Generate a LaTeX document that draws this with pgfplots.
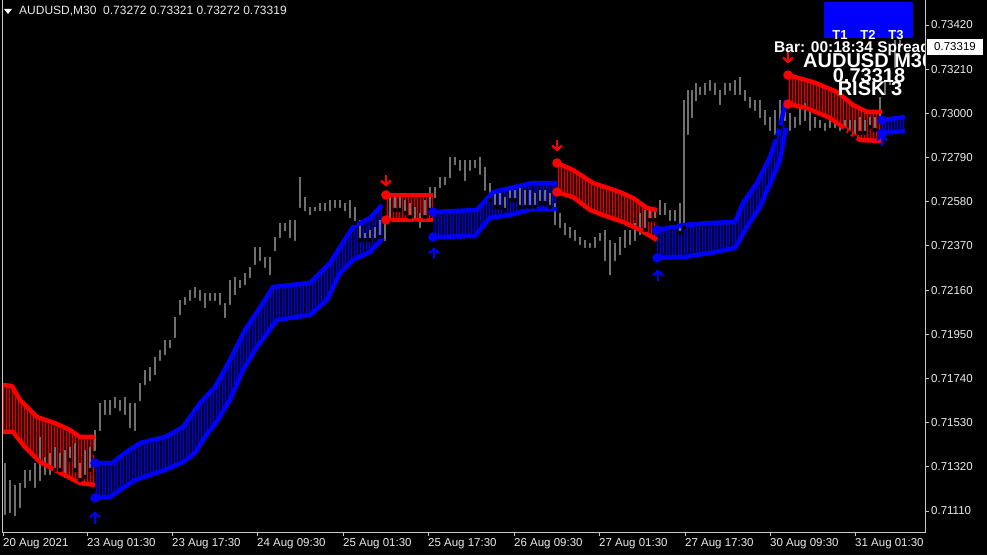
\documentclass[border=0pt]{standalone}
\usepackage{fontspec}
\setmainfont{Liberation Sans}
\usepackage{xcolor}
\usepackage{pgfplots}
\usepackage{pgfplotstable}
\pgfplotsset{compat=1.18}
\usepgfplotslibrary{fillbetween}
\usetikzlibrary{patterns,arrows.meta}

\definecolor{hatchred}{RGB}{220,0,0}
\definecolor{hatchblue}{RGB}{0,0,220}
\definecolor{candle}{RGB}{112,112,112}
\definecolor{framegray}{RGB}{200,200,200}
\definecolor{lbl}{RGB}{235,235,235}

\pgfplotstableread{
x hi lo
5 0.71338 0.71082
10 0.71257 0.71091
15 0.71234 0.71077
20 0.71243 0.71115
25 0.71305 0.71210
30 0.71305 0.71243
35 0.71338 0.71210
40 0.71462 0.71243
45 0.71367 0.71272
50 0.71386 0.71272
55 0.71414 0.71305
60 0.71386 0.71305
65 0.71400 0.71257
70 0.71414 0.71352
75 0.71433 0.71305
80 0.71338 0.71257
85 0.71400 0.71272
90 0.71414 0.71305
95 0.71495 0.71386
100 0.71623 0.71481
105 0.71638 0.71557
110 0.71638 0.71557
115 0.71652 0.71590
120 0.71638 0.71576
125 0.71652 0.71557
130 0.71623 0.71495
135 0.71623 0.71481
140 0.71718 0.71623
145 0.71780 0.71699
150 0.71794 0.71718
155 0.71842 0.71747
160 0.71875 0.71814
165 0.71923 0.71842
170 0.71923 0.71875
175 0.72032 0.71923
180 0.72113 0.72032
185 0.72127 0.72080
190 0.72160 0.72099
195 0.72175 0.72113
200 0.72160 0.72099
205 0.72146 0.72065
210 0.72146 0.72099
215 0.72146 0.72099
220 0.72146 0.72080
225 0.72099 0.72018
230 0.72208 0.72080
235 0.72222 0.72127
240 0.72208 0.72160
245 0.72241 0.72175
250 0.72270 0.72208
255 0.72365 0.72270
260 0.72365 0.72289
265 0.72317 0.72256
270 0.72317 0.72222
275 0.72412 0.72336
280 0.72479 0.72398
285 0.72479 0.72431
290 0.72493 0.72398
295 0.72493 0.72384
300 0.72698 0.72541
305 0.72602 0.72526
310 0.72555 0.72507
315 0.72555 0.72526
320 0.72574 0.72526
325 0.72574 0.72526
330 0.72588 0.72526
335 0.72588 0.72541
340 0.72588 0.72541
345 0.72574 0.72526
350 0.72588 0.72493
355 0.72555 0.72479
360 0.72493 0.72398
365 0.72431 0.72398
370 0.72446 0.72398
375 0.72460 0.72398
380 0.72493 0.72412
385 0.72493 0.72384
390 0.72602 0.72479
395 0.72602 0.72541
400 0.72602 0.72541
405 0.72588 0.72526
410 0.72574 0.72507
415 0.72555 0.72479
420 0.72526 0.72446
425 0.72588 0.72507
430 0.72650 0.72541
435 0.72650 0.72588
440 0.72698 0.72636
445 0.72698 0.72650
450 0.72793 0.72683
455 0.72793 0.72745
460 0.72778 0.72717
465 0.72778 0.72669
470 0.72778 0.72717
475 0.72778 0.72731
480 0.72793 0.72698
485 0.72745 0.72622
490 0.72669 0.72588
495 0.72636 0.72555
500 0.72622 0.72555
505 0.72602 0.72541
510 0.72650 0.72588
515 0.72636 0.72588
520 0.72650 0.72555
525 0.72636 0.72555
530 0.72636 0.72555
535 0.72622 0.72555
540 0.72636 0.72574
545 0.72636 0.72574
550 0.72622 0.72555
555 0.72574 0.72460
560 0.72526 0.72446
565 0.72479 0.72412
570 0.72460 0.72398
575 0.72446 0.72384
580 0.72412 0.72365
585 0.72398 0.72351
590 0.72384 0.72351
595 0.72412 0.72351
600 0.72431 0.72384
605 0.72446 0.72289
610 0.72398 0.72222
615 0.72384 0.72289
620 0.72412 0.72317
625 0.72446 0.72351
630 0.72446 0.72365
635 0.72479 0.72384
640 0.72526 0.72412
645 0.72541 0.72446
650 0.72541 0.72493
655 0.72541 0.72493
660 0.72588 0.72507
665 0.72574 0.72507
670 0.72541 0.72479
675 0.72541 0.72479
680 0.72574 0.72431
684 0.73064 0.72460
688 0.73111 0.72888
692 0.73111 0.72968
696 0.73144 0.73049
700 0.73125 0.73078
705 0.73144 0.73078
710 0.73159 0.73097
715 0.73144 0.73078
720 0.73111 0.73030
725 0.73144 0.73078
730 0.73144 0.73097
735 0.73159 0.73078
740 0.73173 0.73078
745 0.73111 0.73049
750 0.73078 0.73016
755 0.73064 0.73002
760 0.73064 0.72968
765 0.73016 0.72935
770 0.72983 0.72907
775 0.73016 0.72888
780 0.73064 0.72935
785 0.73064 0.72954
790 0.73002 0.72907
795 0.72983 0.72921
800 0.73030 0.72935
805 0.73049 0.72954
810 0.73016 0.72907
815 0.72983 0.72921
820 0.72968 0.72921
825 0.72954 0.72907
830 0.72968 0.72921
835 0.72968 0.72921
840 0.72954 0.72907
845 0.72968 0.72921
850 0.72968 0.72907
855 0.72968 0.72888
860 0.72983 0.72907
865 0.72968 0.72907
870 0.72983 0.72935
875 0.72983 0.72921
880 0.73078 0.72968
885 0.73159 0.73078
890 0.73206 0.73125
895 0.73349 0.73206
900 0.73349 0.73301
905 0.73325 0.73301
}\candles

\pgfplotsset{
  bandR/.style={draw=red, line width=4.4pt, line join=round, line cap=butt},
  bandB/.style={draw=blue, line width=4.4pt, line join=round, line cap=butt},
  solidR/.style={fill=red!22!black, draw=none},
  solidB/.style={fill=blue!22!black, draw=none},
  hatchR/.style={pattern=vertical lines, pattern color=hatchred, draw=none},
  hatchB/.style={pattern=vertical lines, pattern color=hatchblue, draw=none},
}

\begin{document}%
\pagecolor{black}%
\begin{tikzpicture}
\begin{axis}[
  at={(2pt,23pt)}, anchor=south west,
  scale only axis, width=923pt, height=532pt,
  xmin=2, xmax=925, ymin=0.710102, ymax=0.735388,
  axis background/.style={fill=black},
  axis line style={draw=none},
  xtick={3,87,172,257,343,428,514,599,685,770,855},
  xticklabels={20 Aug 2021,23 Aug 01:30,23 Aug 17:30,24 Aug 09:30,25 Aug 01:30,25 Aug 17:30,26 Aug 09:30,27 Aug 01:30,27 Aug 17:30,30 Aug 09:30,31 Aug 01:30},
  ytick={0.7111,0.7132,0.7153,0.7174,0.7195,0.7216,0.7237,0.7258,0.7279,0.7300,0.7321,0.7342},
  yticklabels={0.71110,0.71320,0.71530,0.71740,0.71950,0.72160,0.72370,0.72580,0.72790,0.73000,0.73210,0.73420},
  xtick pos=bottom, ytick pos=right, yticklabel pos=right,
  tick align=outside, major tick length=4pt,
  tick style={draw=framegray, line width=0.9pt},
  xticklabel style={anchor=north west, inner xsep=0pt, inner ysep=2pt, text=lbl, font=\fontsize{11.5}{12}\selectfont},
  yticklabel style={anchor=west, inner xsep=2pt, text=lbl, font=\fontsize{11.5}{12}\selectfont},
  clip=true,
]
% candles
\addplot[only marks, mark=none, error bars/.cd, y dir=plus, y explicit, error mark=none,
  error bar style={draw=candle, line width=1.6pt}]
  table[x=x, y=lo, y error expr=\thisrow{hi}-\thisrow{lo}] {\candles};

% ---- band paths (invisible)
\addplot[draw=none, name path=r1u] coordinates {(2,0.71709)(12,0.71704)(20,0.71638)(37,0.71557)(55,0.71528)(70,0.71495)(80,0.71462)(95,0.71462)};
\addplot[draw=none, name path=r1l] coordinates {(2,0.71486)(13,0.71486)(25,0.71414)(40,0.71343)(55,0.71305)(68,0.71272)(80,0.71243)(95,0.71234)};
\addplot[draw=none, name path=b1u] coordinates {(95,0.71338)(112,0.71338)(125,0.71386)(140,0.71433)(165,0.71462)(183,0.71509)(200,0.71623)(215,0.71699)(230,0.71828)(245,0.71970)(263,0.72099)(273,0.72175)(310,0.72194)(320,0.72241)(330,0.72289)(353,0.72460)(370,0.72503)(382,0.72564)};
\addplot[draw=none, name path=b1l] coordinates {(95,0.71172)(110,0.71177)(120,0.71210)(135,0.71257)(150,0.71281)(165,0.71305)(183,0.71343)(195,0.71386)(205,0.71462)(218,0.71543)(230,0.71638)(243,0.71780)(257,0.71890)(277,0.72018)(310,0.72042)(327,0.72113)(340,0.72241)(353,0.72303)(370,0.72341)(383,0.72408)};
\addplot[draw=none, name path=r2u] coordinates {(386,0.72612)(433,0.72612)};
\addplot[draw=none, name path=r2l] coordinates {(386,0.72493)(433,0.72493)};
\addplot[draw=none, name path=b2u] coordinates {(433,0.72531)(477,0.72541)(493,0.72626)(510,0.72645)(532,0.72669)(557,0.72669)};
\addplot[draw=none, name path=b2l] coordinates {(433,0.72412)(475,0.72417)(490,0.72503)(510,0.72517)(532,0.72545)(557,0.72545)};
\addplot[draw=none, name path=r3u] coordinates {(557,0.72764)(573,0.72731)(593,0.72669)(620,0.72626)(633,0.72598)(647,0.72550)(657,0.72541)};
\addplot[draw=none, name path=r3l] coordinates {(557,0.72626)(573,0.72602)(590,0.72541)(603,0.72517)(623,0.72484)(640,0.72446)(657,0.72398)};
\addplot[draw=none, name path=b4u] coordinates {(657,0.72446)(683,0.72469)(710,0.72479)(735,0.72484)(743,0.72574)(757,0.72669)(770,0.72793)(780,0.72935)(786,0.73064)};
\addplot[draw=none, name path=b4l] coordinates {(657,0.72313)(683,0.72317)(710,0.72336)(735,0.72360)(747,0.72460)(760,0.72555)(773,0.72698)(780,0.72778)(786,0.72930)};
\addplot[draw=none, name path=r5u] coordinates {(788,0.73182)(813,0.73149)(837,0.73102)(853,0.73040)(867,0.73007)(882,0.73007)};
\addplot[draw=none, name path=r5l] coordinates {(788,0.73044)(807,0.73025)(830,0.72978)(847,0.72921)(860,0.72873)(882,0.72869)};
\addplot[draw=none, name path=b6u] coordinates {(882,0.72968)(905,0.72983)};
\addplot[draw=none, name path=b6l] coordinates {(882,0.72907)(905,0.72916)};

\addplot[solidR] fill between[of=r1u and r1l];
\addplot[hatchR] fill between[of=r1u and r1l];
\addplot[solidB] fill between[of=b1u and b1l];
\addplot[hatchB] fill between[of=b1u and b1l];
\addplot[solidR] fill between[of=r2u and r2l];
\addplot[hatchR] fill between[of=r2u and r2l];
\addplot[solidB] fill between[of=b2u and b2l];
\addplot[hatchB] fill between[of=b2u and b2l];
\addplot[solidR] fill between[of=r3u and r3l];
\addplot[hatchR] fill between[of=r3u and r3l];
\addplot[solidB] fill between[of=b4u and b4l];
\addplot[hatchB] fill between[of=b4u and b4l];
\addplot[solidR] fill between[of=r5u and r5l];
\addplot[hatchR] fill between[of=r5u and r5l];
\addplot[solidB] fill between[of=b6u and b6l];
\addplot[hatchB] fill between[of=b6u and b6l];

% ---- band lines
\addplot[bandR] coordinates {(2,0.71709)(12,0.71704)(20,0.71638)(37,0.71557)(55,0.71528)(70,0.71495)(80,0.71462)(95,0.71462)};
\addplot[bandR] coordinates {(2,0.71486)(13,0.71486)(25,0.71414)(40,0.71343)(55,0.71305)(68,0.71272)(80,0.71243)(95,0.71234)};
\addplot[bandB] coordinates {(95,0.71338)(112,0.71338)(125,0.71386)(140,0.71433)(165,0.71462)(183,0.71509)(200,0.71623)(215,0.71699)(230,0.71828)(245,0.71970)(263,0.72099)(273,0.72175)(310,0.72194)(320,0.72241)(330,0.72289)(353,0.72460)(370,0.72503)(382,0.72564)};
\addplot[bandB] coordinates {(95,0.71172)(110,0.71177)(120,0.71210)(135,0.71257)(150,0.71281)(165,0.71305)(183,0.71343)(195,0.71386)(205,0.71462)(218,0.71543)(230,0.71638)(243,0.71780)(257,0.71890)(277,0.72018)(310,0.72042)(327,0.72113)(340,0.72241)(353,0.72303)(370,0.72341)(383,0.72408)};
\addplot[bandR] coordinates {(386,0.72612)(433,0.72612)};
\addplot[bandR] coordinates {(386,0.72493)(433,0.72493)};
\addplot[bandB] coordinates {(433,0.72531)(477,0.72541)(493,0.72626)(510,0.72645)(532,0.72669)(557,0.72669)};
\addplot[bandB] coordinates {(433,0.72412)(475,0.72417)(490,0.72503)(510,0.72517)(532,0.72545)(557,0.72545)};
\addplot[bandR] coordinates {(557,0.72764)(573,0.72731)(593,0.72669)(620,0.72626)(633,0.72598)(647,0.72550)(657,0.72541)};
\addplot[bandR] coordinates {(557,0.72626)(573,0.72602)(590,0.72541)(603,0.72517)(623,0.72484)(640,0.72446)(657,0.72398)};
\addplot[bandB] coordinates {(657,0.72446)(683,0.72469)(710,0.72479)(735,0.72484)(743,0.72574)(757,0.72669)(770,0.72793)(780,0.72935)(786,0.73064)};
\addplot[bandB] coordinates {(657,0.72313)(683,0.72317)(710,0.72336)(735,0.72360)(747,0.72460)(760,0.72555)(773,0.72698)(780,0.72778)(786,0.72930)};
\addplot[bandR] coordinates {(788,0.73182)(813,0.73149)(837,0.73102)(853,0.73040)(867,0.73007)(882,0.73007)};
\addplot[bandR] coordinates {(788,0.73044)(807,0.73025)(830,0.72978)(847,0.72921)(860,0.72873)(882,0.72869)};
\addplot[bandB] coordinates {(882,0.72968)(905,0.72983)};
\addplot[bandB] coordinates {(882,0.72907)(905,0.72916)};

% start dots
\addplot[only marks, mark=*, mark size=4.5pt, red] coordinates {(386,0.72612)(386,0.72493)(557,0.72764)(557,0.72626)(788,0.73182)(788,0.73044)};
\addplot[only marks, mark=*, mark size=4.5pt, blue] coordinates {(95,0.71338)(95,0.71172)(433,0.72531)(433,0.72412)(657,0.72446)(657,0.72313)(882,0.72968)(882,0.72907)};

% arrows
\addplot[blue, line width=2.2pt, -{Straight Barb[length=4.5pt,width=10pt]}, quiver={u=0, v=\thisrow{v}}]
  table {
x y v
95 0.71048 0.00060
434 0.72308 0.00055
658 0.72203 0.00055
882 0.72845 0.00055
};
\addplot[red, line width=2.2pt, -{Straight Barb[length=4.5pt,width=10pt]}, quiver={u=0, v=\thisrow{v}}]
  table {
x y v
386 0.72707 -0.00055
557 0.72874 -0.00055
788 0.73292 -0.00055
};
\end{axis}

% frame
\draw[framegray, line width=1pt] (2pt,555pt) -- (2pt,23pt) -- (925pt,23pt) -- (925pt,555pt);

% header
\fill[white] (4pt,546pt) -- (12pt,546pt) -- (8pt,541pt) -- cycle;
\node[anchor=west, inner sep=0pt, text=lbl, font=\fontsize{12}{12}\selectfont] at (19pt,544pt) {AUDUSD,M30\ \ 0.73272 0.73321 0.73272 0.73319};

% top-right panel
\fill[blue] (824pt,517pt) rectangle (913pt,553pt);
\begin{scope}
\clip (0pt,0pt) rectangle (924.5pt,555pt);
\node[text=white, font=\bfseries\fontsize{13}{13}\selectfont, inner sep=0pt] at (840pt,520pt) {T1};
\node[text=white, font=\bfseries\fontsize{13}{13}\selectfont, inner sep=0pt] at (868pt,520pt) {T2};
\node[text=white, font=\bfseries\fontsize{13}{13}\selectfont, inner sep=0pt] at (896pt,520pt) {T3};
\node[anchor=west, text=white, font=\bfseries\fontsize{15.5}{15.5}\selectfont, inner sep=0pt] at (774pt,507pt) {Bar: 00:18:34 Spread};
\node[anchor=west, text=white, font=\bfseries\fontsize{20}{20}\selectfont, inner sep=0pt] at (803pt,494pt) {AUDUSD M30};
\node[text=white, font=\bfseries\fontsize{20}{20}\selectfont, inner sep=0pt] at (869pt,479pt) {0.73318};
\node[text=white, font=\bfseries\fontsize{20}{20}\selectfont, inner sep=0pt] at (870pt,466pt) {RISK 3};
\end{scope}

% current price box
\fill[white] (927pt,500pt) rectangle (983pt,516pt);
\node[text=black, font=\fontsize{11.5}{12}\selectfont, inner sep=0pt] at (955pt,508pt) {0.73319};

\pgfresetboundingbox
\path[use as bounding box] (0pt,0pt) rectangle (987pt,555pt);
\end{tikzpicture}%
\end{document}
